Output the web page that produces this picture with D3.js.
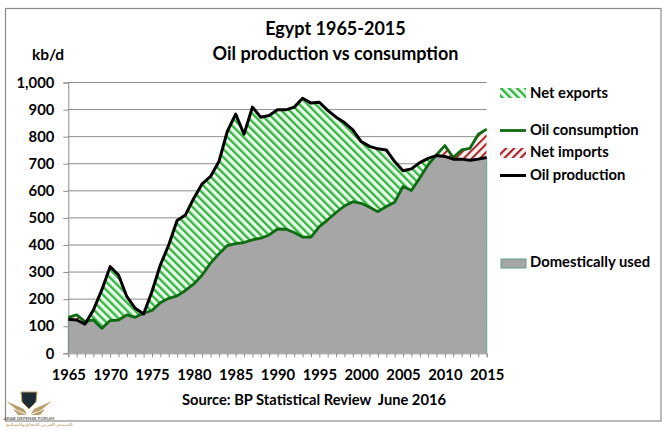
<!DOCTYPE html>
<html lang="en">
<head>
<meta charset="UTF-8">
<title>Egypt oil production vs consumption</title>
<script src="https://cdn.jsdelivr.net/npm/d3@7"></script>
<style>
    html,body{margin:0;padding:0;background:#fff;}
    svg{display:block;}
    text{font-family:Lato,"Open Sans",sans-serif;font-weight:700;fill:#000;}
</style>
</head>
<body>
<script>
const years = d3.range(1965, 2016)
const production = [126,123,108,160,234,320,289,209,166,145,228,326,400,490,511,573,626,653,708,819,883,809,909,872,878,899,899,909,942,924,927,897,872,852,825,782,764,755,751,708,674,681,704,720,730,727,717,717,713,717,723]
const consumption = [133,142,117,123,92,121,123,142,133,148,158,187,203,212,232,256,289,333,367,398,405,409,419,425,437,459,458,446,429,429,468,493,520,544,560,554,539,523,542,558,616,601,647,696,733,767,723,751,757,809,828]
const yTicks = d3.range(0, 1001, 100)
const xLabels = d3.range(1965, 2016, 5)
const titleLines = ["Egypt 1965-2015", "Oil production vs consumption"]

const width = 669, height = 430
const svg = d3.select("body").append("svg").attr("width", width).attr("height", height)
const defs = svg.append("defs")

const x = d3.scaleLinear().domain([1965, 2015]).range([68.3, 486.7])
const y = d3.scaleLinear().domain([0, 1000]).range([353.3, 82.5])

function hatch(id, color, bg, angle, w, gap){
    const p = defs.append("pattern").attr("id", id).attr("patternUnits", "userSpaceOnUse")
        .attr("width", gap).attr("height", gap).attr("patternTransform", `rotate(${angle})`)
    p.append("rect").attr("width", gap).attr("height", gap).attr("fill", bg)
    p.append("rect").attr("width", w).attr("height", gap).attr("fill", color)
}
hatch("greenHatch", "#33b843", "#eefaec", -45, 2.4, 5.7)
hatch("redHatch", "#ab2328", "#fdf5f2", 45, 2.1, 5.7)

// frame
svg.append("rect").attr("x", 5.5).attr("y", 8.5).attr("width", 655.5).attr("height", 412.5)
    .attr("fill", "#fff").attr("stroke", "#8a8a8a").attr("stroke-width", 1.2)

// clip regions built from the two series
const idx = d3.range(years.length)
const areaTo = (vals, base) => d3.area().x(i => x(years[i])).y0(base).y1(i => y(vals[i]))
defs.append("clipPath").attr("id", "belowProd").append("path").attr("d", areaTo(production, y(0))(idx))
defs.append("clipPath").attr("id", "aboveProd").append("path").attr("d", areaTo(production, 0)(idx))
defs.append("clipPath").attr("id", "aboveCons").append("path").attr("d", areaTo(consumption, 0)(idx))

// gridlines
svg.append("g").selectAll("line").data(yTicks.filter(d => d > 0)).join("line")
    .attr("x1", x(1965)).attr("x2", x(2015))
    .attr("y1", d => y(d)).attr("y2", d => y(d))
    .attr("stroke", "#8c8c8c").attr("stroke-width", 1)

// areas
const between = d3.area().x(i => x(years[i])).y0(i => y(consumption[i])).y1(i => y(production[i]))
svg.append("g").attr("clip-path", "url(#aboveCons)")
    .append("path").attr("d", between(idx)).attr("fill", "url(#greenHatch)")
svg.append("g").attr("clip-path", "url(#aboveProd)")
    .append("path").attr("d", between(idx)).attr("fill", "url(#redHatch)")
svg.append("g").attr("clip-path", "url(#belowProd)")
    .append("path").attr("d", areaTo(consumption, y(0))(idx)).attr("fill", "#a6a6a6")
svg.append("line").attr("x1", x(2015)).attr("x2", x(2015)).attr("y1", y(production[50])).attr("y2", y(0))
    .attr("stroke", "#5f9e96").attr("stroke-width", 1)
svg.append("line").attr("x1", x(1965)).attr("x2", x(1965)).attr("y1", y(production[0])).attr("y2", y(0))
    .attr("stroke", "#5f9e96").attr("stroke-width", 1)

// axes
const yAxis = d3.axisLeft(y).tickValues(yTicks).tickSize(5).tickPadding(9).tickFormat(d3.format(","))
const gy = svg.append("g").attr("transform", `translate(${x(1965)},0)`).call(yAxis)
gy.select(".domain").attr("stroke", "#8c8c8c")
gy.selectAll("line").attr("stroke", "#8c8c8c")
gy.selectAll("text").attr("font-size", 14.8)

const xAxis = d3.axisBottom(x).tickValues(years).tickSize(4).tickFormat(d => xLabels.includes(d) ? d : "").tickPadding(12)
const gx = svg.append("g").attr("transform", `translate(0,${y(0)})`).call(xAxis)
gx.select(".domain").attr("stroke", "#8c8c8c")
gx.selectAll("line").attr("stroke", "#8c8c8c")
gx.selectAll("text").attr("font-size", 14.8)

// lines
const line = vals => d3.line().x(i => x(years[i])).y(i => y(vals[i]))(idx)
svg.append("path").attr("d", line(consumption)).attr("fill", "none").attr("stroke", "#0f6b12").attr("stroke-width", 2.8).attr("stroke-linejoin", "round")
svg.append("path").attr("d", line(production)).attr("fill", "none").attr("stroke", "#000").attr("stroke-width", 3).attr("stroke-linejoin", "round")

// titles
svg.selectAll(".title").data(titleLines).join("text").attr("class", "title")
    .attr("x", 335.5).attr("y", (d, i) => 35 + i * 25).attr("text-anchor", "middle").attr("font-size", 18).text(d => d)
svg.append("text").attr("x", 32).attr("y", 60).attr("font-size", 15.5).text("kb/d")
svg.append("text").attr("x", 182).attr("y", 405).attr("font-size", 14.7).attr("xml:space", "preserve").text("Source: BP Statistical Review  June 2016")

// legend
const lx0 = 500, lx1 = 526, ltx = 530
const legend = svg.append("g")
legend.append("rect").attr("x", lx0).attr("y", 88).attr("width", lx1 - lx0).attr("height", 10).attr("fill", "url(#greenHatch)")
legend.append("line").attr("x1", lx0).attr("x2", lx1).attr("y1", 130.5).attr("y2", 130.5).attr("stroke", "#0f6b12").attr("stroke-width", 2.8)
legend.append("rect").attr("x", lx0).attr("y", 148).attr("width", lx1 - lx0).attr("height", 10).attr("fill", "url(#redHatch)")
legend.append("line").attr("x1", lx0).attr("x2", lx1).attr("y1", 175.5).attr("y2", 175.5).attr("stroke", "#000").attr("stroke-width", 3)
legend.append("rect").attr("x", lx0 + 1).attr("y", 259).attr("width", lx1 - lx0 - 1).attr("height", 9).attr("fill", "#a6a6a6").attr("stroke", "#5f9e96")
const legendLabels = ["Net exports", "Oil consumption", "Net imports", "Oil production", "Domestically used"]
const legendY = [98, 135, 157, 180, 267]
legend.selectAll("text").data(legendLabels).join("text")
    .attr("x", ltx).attr("y", (d, i) => legendY[i]).attr("font-size", 14.8).text(d => d)

// watermark, bottom left
const logo = svg.append("g")
logo.append("path").attr("d", "M6 401 L24 409 L27 414 L17 410 Z M52 401 L34 409 L31 414 L41 410 Z M13 409 L27 415 L18 415 Z M45 409 L31 415 L40 415 Z").attr("fill", "#b9a06a")
logo.append("path").attr("d", "M21 392 L37 392 L36 402 L29 409 L22 402 Z").attr("fill", "#1d2a33").attr("stroke", "#b9a06a").attr("stroke-width", 1)
logo.append("text").attr("x", 29).attr("y", 420).attr("text-anchor", "middle").attr("font-size", 4.5).style("fill", "#6d6a62").text("ARAB DEFENSE FORUM")
logo.append("text").attr("x", 6).attr("y", 426).attr("text-anchor", "start").attr("direction", "ltr").attr("font-size", 4.4).style("fill", "#c8b48a").style("font-family", "'Noto Sans','DejaVu Sans',sans-serif").text("المنتدى العربي للدفاع والتسليح")
</script>
</body>
</html>
